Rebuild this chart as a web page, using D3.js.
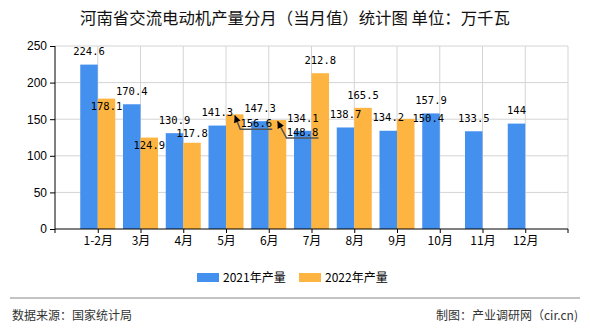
<!DOCTYPE html>
<html><head><meta charset="utf-8">
<script src="https://cdn.jsdelivr.net/npm/d3@7"></script>
<style>body{margin:0;background:#fff}svg{display:block}</style>
</head><body>
<script>
const categories = ["1-2月","3月","4月","5月","6月","7月","8月","9月","10月","11月","12月"];
const values2021 = [224.6,170.4,130.9,141.3,147.3,134.1,138.7,134.2,157.9,133.5,144];
const values2022 = [178.1,124.9,117.8,156.6,148.8,212.8,165.5,150.4];
const seriesNames = ["2021年产量","2022年产量"];
const yTicks = [0,50,100,150,200,250];

const W=590,H=330;
const colors=["#4490ee","#fdb440"];
const svg=d3.select("body").append("svg").attr("width",W).attr("height",H);
const L=55,R=568,T=46,B=229;
const x=d3.scalePoint().domain(categories).range([L,R]).padding(1);
const y=d3.scaleLinear().domain([0,250]).range([B,T]);
const bw=17.5;

svg.append("text").attr("x",295).attr("y",24).attr("text-anchor","middle")
  .attr("font-family","'Noto Sans CJK SC'").attr("font-size",16.4).attr("fill","#111")
  .text("河南省交流电动机产量分月（当月值）统计图 单位：万千瓦");

// grid
const g=svg.append("g");
g.selectAll(".hg").data(yTicks.filter(d=>d>0)).join("line")
  .attr("x1",L).attr("x2",R).attr("y1",d=>y(d)).attr("y2",d=>y(d)).attr("stroke","#d4d4d4");
g.selectAll(".vg").data(categories).join("line")
  .attr("x1",d=>x(d)).attr("x2",d=>x(d)).attr("y1",T).attr("y2",B).attr("stroke","#d4d4d4");
g.append("line").attr("x1",R).attr("x2",R).attr("y1",T).attr("y2",B).attr("stroke","#d4d4d4");

// bars
const bars=svg.append("g");
bars.selectAll(".b1").data(values2021).join("rect")
  .attr("x",(d,i)=>x(categories[i])-bw).attr("width",bw)
  .attr("y",d=>y(d)).attr("height",d=>B-y(d)).attr("fill",colors[0]);
bars.selectAll(".b2").data(values2022).join("rect")
  .attr("x",(d,i)=>x(categories[i])).attr("width",bw)
  .attr("y",d=>y(d)).attr("height",d=>B-y(d)).attr("fill",colors[1]);

// axes
const ya=svg.append("g").attr("transform",`translate(${L},0)`)
  .call(d3.axisLeft(y).tickValues(yTicks).tickSize(5).tickPadding(3));
ya.select(".domain").attr("d",`M0,${T}V${B+4}`).attr("stroke","#000");
ya.selectAll("text").attr("font-family","'Liberation Sans',Arial").attr("font-size",12).attr("fill","#000");
ya.selectAll("line").attr("stroke","#000");
const xa=svg.append("g").attr("transform",`translate(0,${B})`)
  .call(d3.axisBottom(x).tickSize(4).tickPadding(3));
xa.select(".domain").attr("d",`M${L},0H${R}`).attr("stroke","#000");
xa.selectAll("text").attr("font-family","'Noto Sans CJK SC'").attr("font-size",12).attr("fill","#000");
xa.selectAll("line").attr("stroke","#000");
xa.append("line").attr("x1",R).attr("x2",R).attr("y1",0).attr("y2",4).attr("stroke","#000");

// labels
const nudge2022={0:{dx:0,dy:21},1:{dx:0,dy:21},2:{dx:0,dy:4},3:{dx:21.5,dy:22,leader:true},4:{dx:25,dy:25,leader:true},7:{dx:22.5,dy:12}};
const lab=svg.append("g").attr("font-family","'DejaVu Sans Mono',monospace").attr("font-size",10.5).attr("fill","#000").attr("text-anchor","middle");
values2021.forEach((v,i)=>{
  lab.append("text").attr("x",x(categories[i])-bw/2).attr("y",y(v)-13).attr("dy","0.35em").text(v);
});
svg.append("defs").append("marker").attr("id","arr").attr("viewBox","0 0 10 10").attr("refX",10).attr("refY",5)
  .attr("markerUnits","userSpaceOnUse").attr("markerWidth",8).attr("markerHeight",7).attr("orient","auto")
  .append("path").attr("d","M0,0L10,5L0,10z").attr("fill","#000");
values2022.forEach((v,i)=>{
  const n=nudge2022[i]||{dx:0,dy:0};
  const cx=x(categories[i])+bw/2, top=y(v);
  const lx=cx+n.dx, ly=top-13+n.dy;
  if(n.leader){
    const bx=cx+(i===3?5.5:9), by=ly+6;
    svg.append("path").attr("d",`M${lx+16},${by}H${bx}L${cx},${top+1}`)
      .attr("fill","none").attr("stroke","#555").attr("stroke-width",1.5).attr("marker-end","url(#arr)");
  }
  lab.append("text").attr("x",lx).attr("y",ly).attr("dy","0.35em").text(v);
});

// legend
const lg=svg.append("g");
[0,1].forEach(k=>{
  const ox=k===0?197:299;
  lg.append("rect").attr("x",ox).attr("y",273).attr("width",22).attr("height",9).attr("fill",colors[k]);
  lg.append("text").attr("x",ox+26).attr("y",277.5).attr("dy","0.35em")
    .attr("font-family","'Noto Sans CJK SC'").attr("font-size",12).attr("fill","#000").text(seriesNames[k]);
});

// footer
svg.append("line").attr("x1",10).attr("x2",580).attr("y1",298).attr("y2",298).attr("stroke","#888");
svg.append("text").attr("x",12).attr("y",320).attr("font-family","'Noto Sans CJK SC'").attr("font-size",12).attr("fill","#333").text("数据来源：国家统计局");
svg.append("text").attr("x",578).attr("y",320).attr("text-anchor","end").attr("font-family","'Noto Sans CJK SC'").attr("font-size",12).attr("fill","#333").text("制图：产业调研网（cir.cn)");
</script>
</body></html>
